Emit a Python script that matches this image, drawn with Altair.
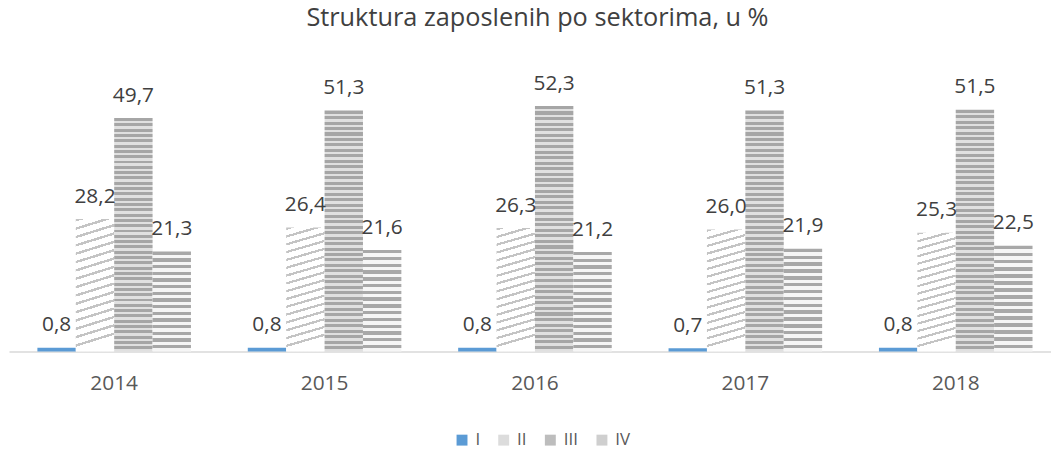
import altair as alt
import pandas as pd

years = ["2014", "2015", "2016", "2017", "2018"]
sectors = ["I", "II", "III", "IV"]
sector_I = [0.8, 0.8, 0.8, 0.7, 0.8]
sector_II = [28.2, 26.4, 26.3, 26.0, 25.3]
sector_III = [49.7, 51.3, 52.3, 51.3, 51.5]
sector_IV = [21.3, 21.6, 21.2, 21.9, 22.5]
colors = ["#5B9BD5", "#dcdcdc", "#bdbdbd", "#cfcfcf"]

rows = []
for name, vals in zip(sectors, [sector_I, sector_II, sector_III, sector_IV]):
    for yr, v in zip(years, vals):
        rows.append({"year": yr, "sector": name, "value": v})
df = pd.DataFrame(rows)

FONT = "Open Sans"


def stripes(n, c_on, c_off, frac, x2=0.0, y2=1.0):
    stops = []
    for k in range(n):
        a = k / n
        b = (k + frac) / n
        c = (k + 1) / n
        stops += [
            {"offset": a, "color": c_on},
            {"offset": b, "color": c_on},
            {"offset": b, "color": c_off},
            {"offset": c, "color": c_off},
        ]
    return {"gradient": "linear", "x1": 0, "y1": 0, "x2": x2, "y2": y2, "stops": stops}


grad_II = stripes(16, "#c4c4c4", "#ffffff", 0.3, x2=0.09, y2=1.0)
grad_III = stripes(44, "#a6a6a6", "#e0e0e0", 0.55)
grad_IV = stripes(15, "#a8a8a8", "#f6f6f6", 0.5)

x = alt.X(
    "year:N",
    sort=years,
    scale=alt.Scale(range=[1, 1061], paddingInner=0.27, paddingOuter=0.135),
    axis=alt.Axis(
        title=None, labelAngle=0, ticks=False, domainColor="#d9d9d9", domainWidth=1.5,
        labelFont=FONT, labelFontSize=21, labelColor="#595959", labelPadding=21,
    ),
)
xo = alt.XOffset("sector:N", sort=sectors, scale=alt.Scale(paddingInner=0, paddingOuter=0))
y = alt.Y("value:Q", scale=alt.Scale(domain=[0, 60]), axis=None)

base = alt.Chart(df).encode(x=x, xOffset=xo, y=y)

bars = base.mark_bar().encode(
    color=alt.Color(
        "sector:N",
        sort=sectors,
        scale=alt.Scale(domain=sectors, range=colors),
        legend=alt.Legend(
            title=None, orient="none", legendX=449, legendY=364.5, direction="horizontal",
            symbolType="square", symbolSize=121, symbolStrokeWidth=0,
            labelFont=FONT, labelFontSize=17, labelColor="#595959",
            labelOffset=5, columnPadding=15, padding=0,
        ),
        condition=[
            {"test": "datum.sector === 'II'", "value": grad_II},
            {"test": "datum.sector === 'III'", "value": grad_III},
            {"test": "datum.sector === 'IV'", "value": grad_IV},
        ],
    )
)

labels = base.transform_calculate(
    lbl="replace(format(datum.value, '.1f'), '.', ',')"
).mark_text(
    baseline="alphabetic", dy=-16.5, font=FONT, fontSize=21, color="#404040"
).encode(text="lbl:N")

chart = alt.layer(bars, labels).properties(
    width=1051,
    height=284,
    autosize=alt.AutoSizeParams(type="none"),
    padding={"left": 0, "top": 60.5, "right": 0, "bottom": 97.5},
    title=alt.TitleParams(
        "Struktura zaposlenih po sektorima, u %", font=FONT, fontSize=25.5,
        fontWeight="normal", color="#404040", anchor="middle", frame="group",
        offset=18.5, baseline="alphabetic", dx=8,
    ),
).configure_view(stroke=None)

chart.save("out.html", embed_options={"renderer": "svg", "actions": False})
